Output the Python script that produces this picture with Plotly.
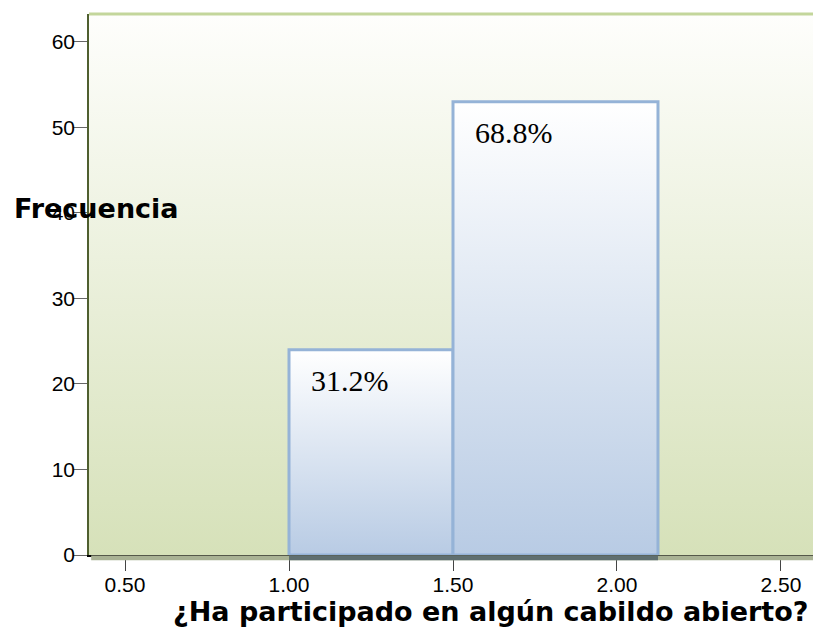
import plotly.graph_objects as go

# ---- data ----
bin_edges = [1.0, 1.5, 2.125]          # histogram bin edges
counts = [24, 53]                      # frequency per bin
pct_labels = ["31.2%", "68.8%"]        # percentage labels
x_tick_vals = [0.5, 1.0, 1.5, 2.0, 2.5]
x_tick_text = ["0.50", "1.00", "1.50", "2.00", "2.50"]
y_tick_vals = [0, 10, 20, 30, 40, 50, 60]
x_title = "¿Ha participado en algún cabildo abierto?"
y_title = "Frecuencia"

X_RANGE = [0.3902, 2.5976]
Y_RANGE = [0, 63.27]

fig = go.Figure()

# plot-area gradient background
fig.add_trace(go.Scatter(
    x=[X_RANGE[0], X_RANGE[1], X_RANGE[1], X_RANGE[0], X_RANGE[0]],
    y=[Y_RANGE[0], Y_RANGE[0], Y_RANGE[1], Y_RANGE[1], Y_RANGE[0]],
    mode="none", fill="toself",
    fillgradient=dict(type="vertical",
                      colorscale=[[0, "#d6e1b9"], [1, "#fefefc"]]),
    hoverinfo="skip", showlegend=False))

# histogram bars (gradient filled)
for i, c in enumerate(counts):
    x0, x1 = bin_edges[i], bin_edges[i + 1]
    fig.add_trace(go.Scatter(
        x=[x0, x1, x1, x0, x0], y=[0, 0, c, c, 0],
        mode="lines", fill="toself",
        line=dict(color="#95b3d7", width=3),
        fillgradient=dict(type="vertical",
                          colorscale=[[0, "#b8cbe4"], [1, "#ffffff"]]),
        hoverinfo="skip", showlegend=False))
    fig.add_annotation(x=x0, y=c, xref="x", yref="y", text=pct_labels[i],
                       showarrow=False, xanchor="left", yanchor="top",
                       xshift=20, yshift=-12,
                       font=dict(family="Liberation Serif", size=30, color="#000000"))

# shadows
fig.add_shape(type="rect", xref="paper", yref="paper", x0=0.003, x1=1,
              y0=-0.0095, y1=-0.001, fillcolor="#a9b294", line_width=0, layer="above")
fig.add_shape(type="rect", xref="x", yref="paper", x0=bin_edges[0], x1=bin_edges[-1],
              y0=-0.0095, y1=-0.001, fillcolor="#5f6f70", line_width=0, layer="above")
fig.add_shape(type="rect", xref="x", xsizemode="pixel", xanchor=bin_edges[-1],
              x0=2, x1=5, yref="y", y0=0, y1=counts[-1] - 1.0,
              fillcolor="#8ea2bd", line_width=0, layer="below")
# top border
fig.add_shape(type="line", xref="paper", yref="paper", x0=0, x1=1, y0=1, y1=1,
              line=dict(color="#c3d69b", width=3))

fig.add_annotation(x=-0.1064, y=0.64, xref="paper", yref="paper", text=y_title,
                   showarrow=False, xanchor="left", yanchor="middle",
                   font=dict(family="DejaVu Sans", size=27, color="#000000", weight="bold"))
fig.add_annotation(x=0.555, y=-0.105, xref="paper", yref="paper", text=x_title,
                   showarrow=False, xanchor="center", yanchor="middle",
                   font=dict(family="DejaVu Sans", size=27, color="#000000", weight="bold"))

fig.update_layout(
    width=813, height=639,
    margin=dict(l=89, r=0, t=14, b=84),
    paper_bgcolor="#ffffff", plot_bgcolor="#ffffff",
    font=dict(family="Liberation Sans", size=21, color="#000000"),
    showlegend=False,
    xaxis=dict(range=X_RANGE, tickvals=x_tick_vals, ticktext=x_tick_text,
               ticks="outside", ticklen=14, tickcolor="#444444", tickwidth=1,
               ticklabelstandoff=-4,
               showgrid=False, zeroline=False, showline=True,
               linecolor="#000000", linewidth=1.5, fixedrange=True),
    yaxis=dict(range=Y_RANGE, tickvals=y_tick_vals,
               ticks="outside", ticklen=14, tickcolor="#666666", tickwidth=1,
               ticklabelstandoff=-6,
               showgrid=False, zeroline=False, showline=True,
               linecolor="#4f5f2f", linewidth=1.5, fixedrange=True),
)

fig.write_html("out.html", config={"displayModeBar": False},
               post_script="document.body.style.margin='0px';document.body.style.overflow='hidden';")
